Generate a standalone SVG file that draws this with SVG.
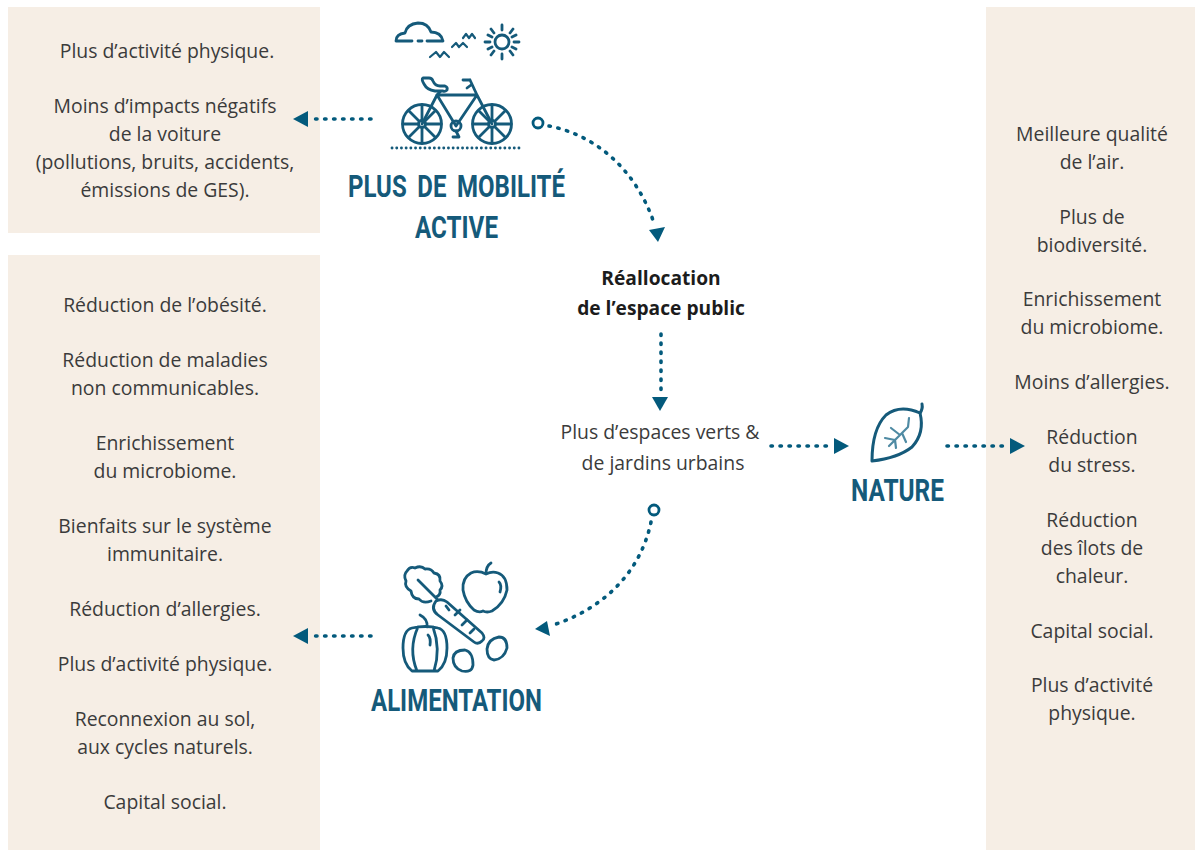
<svg xmlns="http://www.w3.org/2000/svg" width="1195" height="850" viewBox="0 0 1195 850">
<style>
.panel{fill:#f6eee5}
.t{font-family:"Open Sans","Noto Sans",sans-serif;font-size:19.4px;fill:#3b3b3b;text-anchor:middle}
.b{font-family:"Open Sans","Noto Sans",sans-serif;font-size:19.2px;font-weight:700;fill:#1c1c1c;text-anchor:middle}
.h{font-family:Roboto,"Liberation Sans",sans-serif;font-size:31px;font-weight:700;fill:#155a7a;word-spacing:6px}
.i{fill:none;stroke:#155a7a;stroke-width:2.8;stroke-linecap:round;stroke-linejoin:round}
.d{fill:none;stroke:#035a7c;stroke-width:3.6;stroke-linecap:round;stroke-dasharray:1.4 7.6}
.a{fill:#035a7c}
.c{fill:none;stroke:#035a7c;stroke-width:2.8}
</style>
<rect width="1195" height="850" fill="#fff"/>
<g id="panels">
<rect class="panel" x="8" y="7" width="312" height="226"/>
<rect class="panel" x="8" y="255" width="312" height="595"/>
<rect class="panel" x="986" y="7" width="209" height="843"/>
</g>
<g id="texte-mobilite">
<text class="t" x="167" y="58">Plus d’activité physique.</text>
<text class="t" x="165" y="113">Moins d’impacts négatifs</text>
<text class="t" x="165" y="141">de la voiture</text>
<text class="t" x="165" y="169">(pollutions, bruits, accidents,</text>
<text class="t" x="165" y="197">émissions de GES).</text>
</g>
<g id="texte-alimentation">
<text class="t" x="165" y="312">Réduction de l’obésité.</text>
<text class="t" x="165" y="367">Réduction de maladies</text>
<text class="t" x="165" y="395">non communicables.</text>
<text class="t" x="165" y="450">Enrichissement</text>
<text class="t" x="165" y="478">du microbiome.</text>
<text class="t" x="165" y="533">Bienfaits sur le système</text>
<text class="t" x="165" y="561">immunitaire.</text>
<text class="t" x="165" y="616">Réduction d’allergies.</text>
<text class="t" x="165" y="671">Plus d’activité physique.</text>
<text class="t" x="165" y="726">Reconnexion au sol,</text>
<text class="t" x="165" y="754">aux cycles naturels.</text>
<text class="t" x="165" y="809">Capital social.</text>
</g>
<g id="texte-nature">
<text class="t" x="1092" y="141">Meilleure qualité</text>
<text class="t" x="1092" y="169">de l’air.</text>
<text class="t" x="1092" y="224">Plus de</text>
<text class="t" x="1092" y="252">biodiversité.</text>
<text class="t" x="1092" y="306">Enrichissement</text>
<text class="t" x="1092" y="334">du microbiome.</text>
<text class="t" x="1092" y="389">Moins d’allergies.</text>
<text class="t" x="1092" y="444">Réduction</text>
<text class="t" x="1092" y="472">du stress.</text>
<text class="t" x="1092" y="527">Réduction</text>
<text class="t" x="1092" y="555">des îlots de</text>
<text class="t" x="1092" y="583">chaleur.</text>
<text class="t" x="1092" y="638">Capital social.</text>
<text class="t" x="1092" y="692">Plus d’activité</text>
<text class="t" x="1092" y="720">physique.</text>
</g>
<g id="node-mobilite">
<g class="i">
<path d="M396 41q0-7 9-8q2-9 13-10q10 0 13 9q10 0 12 9M396 41h16M418 41h4M427 41h16"/>
<path d="M430 57l6-5 4 5 4-5 5 5 M452 47l4-4 3 4 4-4 4 4 M463 38l3-4 3 4 3-4 3 4" stroke-width="2.2"/>
<circle cx="502" cy="42" r="7"/>
<path d="M502 30v-5M502 54v5M490 42h-5M514 42h5M494 33l-3-4M510 33l3-4M494 51l-3 4M510 51l3 4M488 35l4 2M516 35l-4 2M488 49l4-2M516 49l-4-2"/>
<circle cx="422" cy="124" r="19.5"/>
<circle cx="492" cy="124" r="19.5"/>
<circle cx="422" cy="124" r="3.5"/>
<circle cx="492" cy="124" r="3.5"/>
<path d="M422 120v-15M422 128v15M418 124h-15M426 124h15M419 121l-10-10M425 121l10-10M419 127l-10 10M425 127l10 10M492 120v-15M492 128v15M488 124h-15M496 124h15M489 121l-10-10M495 121l10-10M489 127l-10 10M495 127l10 10"/>
<circle cx="456" cy="126" r="5"/>
<path d="M422 124l15-29h40l15 29M437 95l19 31l21-31M477 95l-7-15M463 80h7M467 88l4-3M456 131l3 6h-6"/>
<path d="M423 78h6q3 0 4 3q2 5 7 5h5q3 1 2 4q-2 2-4 1h-8q-8-1-11-7q-3-5-1-6zM437 95l4-4"/>
</g>
<path d="M392 148H520" fill="none" stroke="#155a7a" stroke-width="2.8" stroke-linecap="round" stroke-dasharray=".1 4.6"/>
<text class="h" x="348" y="197" textLength="217" lengthAdjust="spacingAndGlyphs">PLUS DE MOBILITÉ</text>
<text class="h" x="415" y="238" textLength="83" lengthAdjust="spacingAndGlyphs">ACTIVE</text>
</g>
<g id="node-reallocation">
<text class="b" x="661" y="285">Réallocation</text>
<text class="b" x="661" y="315">de l’espace public</text>
</g>
<g id="node-espaces">
<text class="t" x="660" y="439">Plus d’espaces verts &amp;</text>
<text class="t" x="663" y="470">de jardins urbains</text>
</g>
<g id="node-nature">
<g class="i">
<path d="M872 461q0-32 14-46q14-11 34-2q5 20-8 34q-14 11-40 14z" stroke-width="3"/>
<path d="M920 413q3-4 2-9" stroke-width="3"/>
<path d="M889 446l19-19l1-9M900 435l-9-7M895 440l-10-2M895 440l1 8M902 433l4 9" stroke="#4e8aa3" stroke-width="2.2"/>
</g>
<text class="h" x="851" y="501" textLength="93" lengthAdjust="spacingAndGlyphs">NATURE</text>
</g>
<g id="node-alimentation">
<g class="i">
<path d="M431 601q-8 3-12-2q-7 0-8-8q-7-4-5-10q-3-6 1-10q3-5 8-3q6-3 10 1q6-1 9 4q7 1 6 8q4 5 0 9q1 5-4 7"/>
<path d="M418 580l19 19"/>
<path d="M436 601q6-3 11 1l35 31q4 5 0 8q-4 4-8 1l-36-27q-8-6-2-14z"/>
<path d="M446 606l3 4M455 615l5-5M462 625l5-5M470 633l4-4"/>
<path d="M486 574q-8-4-15-1q-9 5-8 17q2 12 11 20q5 3 9 1q4 2 9 0q12-7 15-21q0-14-9-17q-6-2-12 1zM486 574q0-8 5-11M499 582q3 3 1 10"/>
<path d="M427 627q1-8-7-12M412 628q-9 2-9 20q0 16 9 23h26q9-7 9-23q0-18-9-20q-12-3-26 0zM418 627q-10 22-1 44M433 627q8 22 1 44M428 635q3 3 2 10"/>
<path d="M465 650q-11 0-12 8q0 10 9 13q10 2 11-6q0-13-8-15z"/>
<path d="M499 637q-11 2-12 12q0 10 7 11q10-1 13-12q0-11-8-11z"/>
</g>
<text class="h" x="371" y="711" textLength="171" lengthAdjust="spacingAndGlyphs">ALIMENTATION</text>
</g>
<g id="connectors">
<path class="d" d="M371 119H312"/><path class="a" d="M293 119l15-8v16z"/>
<path class="d" d="M371 636H312"/><path class="a" d="M293 636l15-8v16z"/>
<path class="d" d="M661 334V394"/><path class="a" d="M660 411l-8-14h16z"/>
<path class="d" d="M771 446H830"/><path class="a" d="M849 446l-15-8v16z"/>
<path class="d" d="M947 446H1006"/><path class="a" d="M1025 446l-15-8v16z"/>
<circle class="c" cx="538" cy="123" r="5"/>
<path class="d" d="M549 126C596 135 636 170 654 223"/>
<path class="a" d="M649 230l16-3-7 15z"/>
<circle class="c" cx="654" cy="510" r="5"/>
<path class="d" d="M651 522C640 575 600 610 553 625"/>
<path class="a" d="M535 629l12-8 3 15z"/>
</g>
</svg>
